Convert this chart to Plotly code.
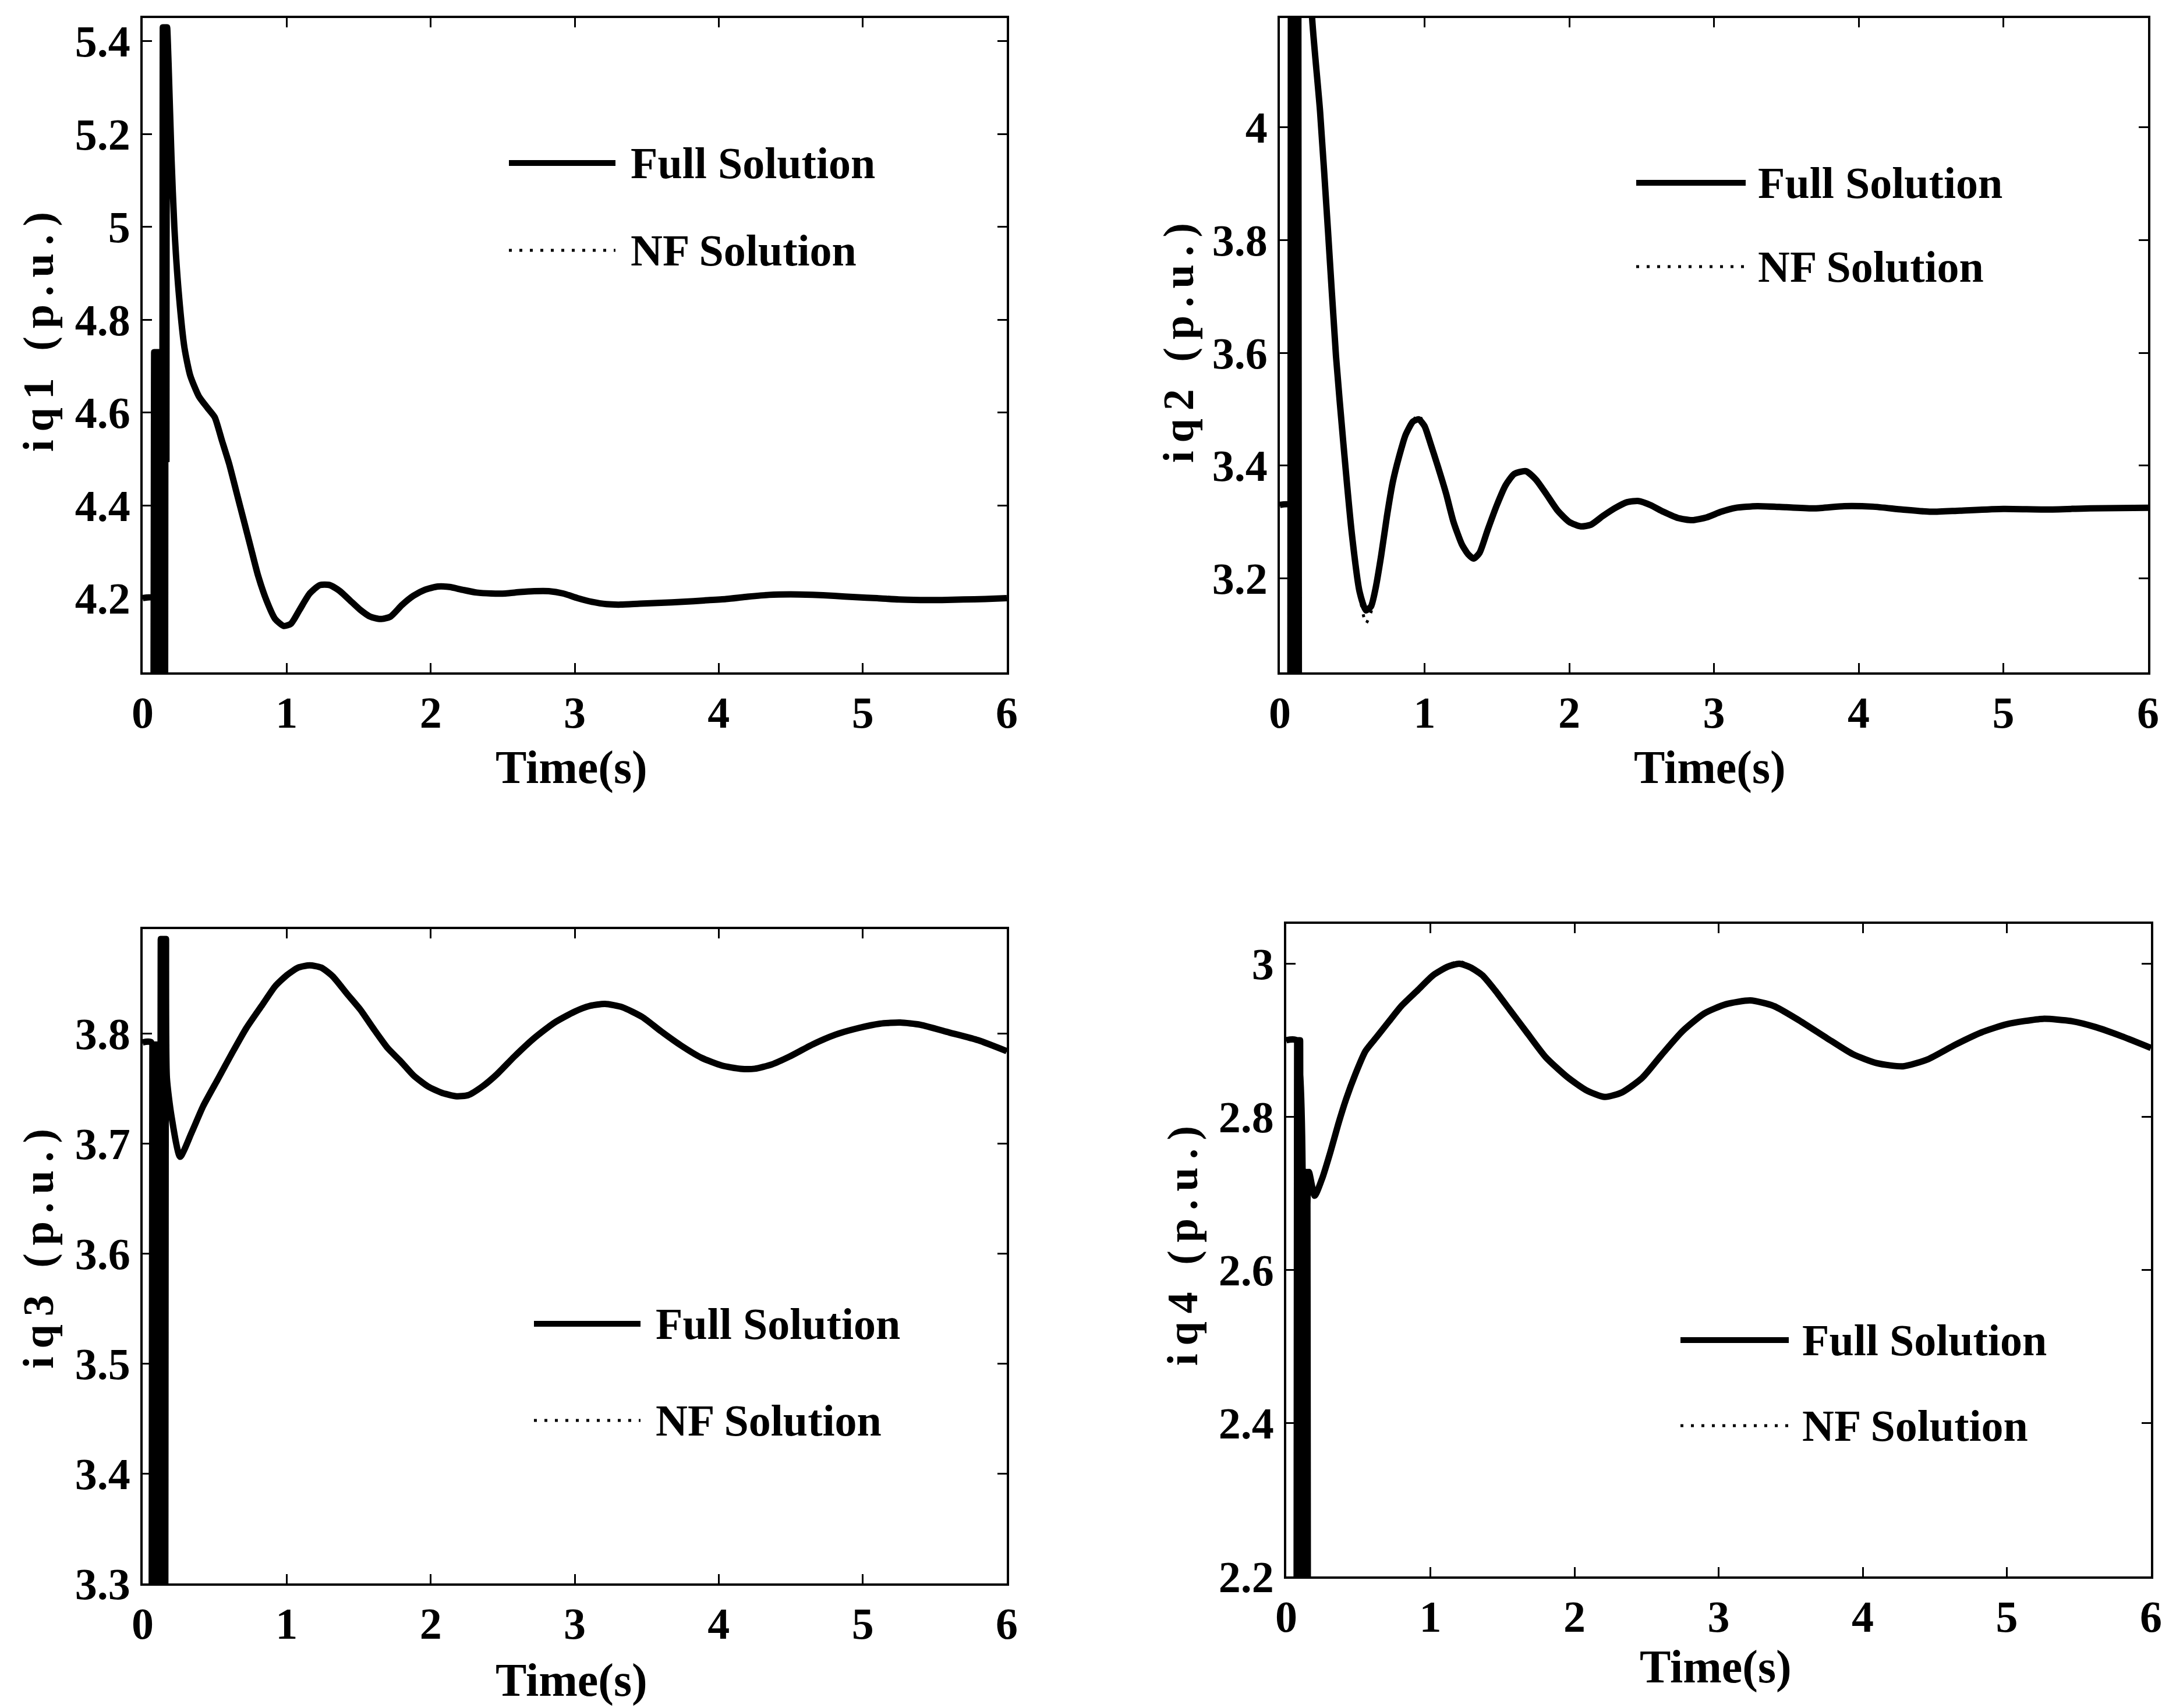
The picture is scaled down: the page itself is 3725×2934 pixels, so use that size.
import plotly.graph_objects as go

W, H = 3725, 2934

# ---------------- data ----------------
# iq1
t1 = [0, 0.073,
      0.075, 0.080, 0.085, 0.090, 0.095, 0.100, 0.105, 0.110, 0.115, 0.120, 0.125, 0.130,
      0.135, 0.140, 0.145, 0.150, 0.155, 0.160, 0.165, 0.170,
      0.18, 0.20, 0.22, 0.25, 0.29, 0.33, 0.39, 0.45, 0.50, 0.55, 0.60, 0.65, 0.70, 0.75,
      0.80, 0.86, 0.92, 0.98, 1.03, 1.09, 1.16, 1.23, 1.30, 1.37, 1.44, 1.51, 1.58, 1.65,
      1.72, 1.80, 1.88, 1.96, 2.05, 2.13, 2.22, 2.32, 2.42, 2.52, 2.62, 2.72, 2.82, 2.92,
      3.02, 3.12, 3.22, 3.32, 3.45, 3.60, 3.75, 3.90, 4.05, 4.20, 4.35, 4.50, 4.65, 4.80,
      4.95, 5.10, 5.25, 5.40, 5.55, 5.70, 5.85, 6.0]
iq1_full = [4.2, 4.2,
            3.9, 4.73, 3.9, 4.73, 3.9, 4.73, 3.9, 4.73, 3.9, 4.73, 3.9, 4.73,
            3.9, 5.43, 3.9, 5.43, 3.9, 5.43, 4.5, 5.43,
            5.35, 5.15, 5.0, 4.86, 4.74, 4.68, 4.635, 4.61, 4.59, 4.54, 4.49, 4.43, 4.37, 4.31,
            4.25, 4.195, 4.155, 4.14, 4.145, 4.175, 4.21, 4.228, 4.228, 4.215, 4.195, 4.175, 4.16, 4.155,
            4.16, 4.185, 4.205, 4.218, 4.225, 4.224, 4.218, 4.212, 4.21, 4.21, 4.213, 4.215, 4.215, 4.21,
            4.2, 4.192, 4.187, 4.186, 4.188, 4.19, 4.192, 4.195, 4.198, 4.203, 4.207, 4.208, 4.207, 4.205,
            4.202, 4.2, 4.197, 4.196, 4.196, 4.197, 4.198, 4.2]
iq1_nf = [4.2, 4.2,
          3.9, 4.73, 3.9, 4.73, 3.9, 4.73, 3.9, 4.73, 3.9, 4.73, 3.9, 4.73,
          3.9, 5.43, 3.9, 5.43, 3.9, 5.43, 4.5, 5.43,
          5.36, 5.16, 5.0, 4.86, 4.74, 4.68, 4.635, 4.61, 4.59, 4.54, 4.49, 4.43, 4.37, 4.31,
          4.25, 4.195, 4.153, 4.137, 4.143, 4.175, 4.21, 4.23, 4.229, 4.215, 4.195, 4.175, 4.158, 4.153,
          4.16, 4.185, 4.205, 4.219, 4.226, 4.224, 4.218, 4.212, 4.21, 4.21, 4.213, 4.216, 4.215, 4.21,
          4.2, 4.192, 4.186, 4.185, 4.188, 4.19, 4.192, 4.195, 4.198, 4.203, 4.207, 4.209, 4.207, 4.205,
          4.202, 4.2, 4.197, 4.196, 4.196, 4.197, 4.198, 4.2]

# iq2
t2 = [0, 0.070,
      0.072, 0.078, 0.084, 0.090, 0.096, 0.102, 0.108, 0.114, 0.120, 0.126, 0.132, 0.138, 0.143,
      0.18, 0.224, 0.278, 0.333, 0.388, 0.44, 0.497, 0.551, 0.595, 0.63, 0.66, 0.70, 0.74, 0.78,
      0.823, 0.87, 0.92, 0.96, 1.00, 1.04, 1.09, 1.149, 1.20, 1.258, 1.30, 1.34, 1.38, 1.435,
      1.50, 1.56, 1.62, 1.70, 1.77, 1.84, 1.92, 2.00, 2.08, 2.15, 2.23, 2.32, 2.40, 2.48,
      2.56, 2.65, 2.75, 2.85, 2.95, 3.05, 3.15, 3.30, 3.50, 3.70, 3.90, 4.10, 4.30, 4.50,
      4.70, 5.00, 5.30, 5.60, 6.0]
iq2_full = [3.33, 3.33,
            2.9, 4.6, 2.9, 4.6, 2.9, 4.6, 2.9, 4.6, 2.9, 4.6, 2.9, 4.6, 4.6,
            4.45, 4.19, 4.028, 3.815, 3.594, 3.436, 3.28, 3.176, 3.143, 3.15, 3.18, 3.24, 3.31, 3.37,
            3.415, 3.455, 3.478, 3.482, 3.47, 3.44, 3.40, 3.35, 3.30, 3.26, 3.243, 3.235, 3.245, 3.285,
            3.33, 3.365, 3.385, 3.39, 3.375, 3.35, 3.32, 3.30, 3.292, 3.295, 3.31, 3.325, 3.335, 3.337,
            3.33, 3.318, 3.307, 3.303, 3.308, 3.318, 3.325, 3.328, 3.326, 3.324, 3.328, 3.327, 3.322, 3.318,
            3.32, 3.323, 3.322, 3.324, 3.325]
iq2_nf = [3.33, 3.33,
          2.9, 4.6, 2.9, 4.6, 2.9, 4.6, 2.9, 4.6, 2.9, 4.6, 2.9, 4.6, 4.6,
          4.45, 4.19, 4.03, 3.815, 3.594, 3.436, 3.28, 3.17, 3.12, 3.14, 3.18, 3.24, 3.31, 3.37,
          3.415, 3.455, 3.48, 3.49, 3.47, 3.44, 3.40, 3.35, 3.30, 3.26, 3.24, 3.232, 3.245, 3.285,
          3.33, 3.365, 3.387, 3.392, 3.375, 3.35, 3.32, 3.30, 3.29, 3.295, 3.31, 3.325, 3.336, 3.338,
          3.33, 3.318, 3.307, 3.302, 3.308, 3.318, 3.325, 3.328, 3.326, 3.324, 3.328, 3.327, 3.322, 3.318,
          3.32, 3.323, 3.322, 3.324, 3.325]

# iq3
t3 = [0, 0.060,
      0.062, 0.068, 0.074, 0.080, 0.086, 0.092, 0.098, 0.104, 0.110, 0.115,
      0.120, 0.126, 0.132, 0.138, 0.144, 0.150, 0.156, 0.162, 0.168,
      0.20, 0.26, 0.34, 0.42, 0.52, 0.62, 0.72, 0.83, 0.92, 1.00, 1.08, 1.16, 1.24, 1.32,
      1.42, 1.51, 1.60, 1.70, 1.79, 1.88, 1.98, 2.08, 2.18, 2.26, 2.36, 2.46, 2.58, 2.72,
      2.86, 3.00, 3.10, 3.21, 3.33, 3.47, 3.60, 3.74, 3.88, 4.02, 4.15, 4.25, 4.37, 4.49,
      4.65, 4.81, 4.97, 5.12, 5.26, 5.40, 5.60, 5.80, 6.0]
iq3_full = [3.792, 3.792,
            3.2, 3.79, 3.2, 3.79, 3.2, 3.79, 3.2, 3.79, 3.2, 3.79,
            3.2, 3.886, 3.2, 3.886, 3.2, 3.886, 3.2, 3.886, 3.76,
            3.725, 3.688, 3.71, 3.734, 3.758, 3.782, 3.805, 3.826, 3.843, 3.853, 3.86, 3.862, 3.86, 3.852,
            3.836, 3.822, 3.805, 3.787, 3.775, 3.762, 3.752, 3.746, 3.743, 3.744, 3.752, 3.763, 3.779, 3.796,
            3.81, 3.82, 3.825, 3.827, 3.824, 3.815, 3.802, 3.789, 3.778, 3.771, 3.768, 3.768, 3.772, 3.779,
            3.79, 3.799, 3.805, 3.809, 3.81, 3.808, 3.801, 3.794, 3.784]
iq3_nf = [3.792, 3.792,
          3.2, 3.79, 3.2, 3.79, 3.2, 3.79, 3.2, 3.79, 3.2, 3.79,
          3.2, 3.886, 3.2, 3.886, 3.2, 3.886, 3.2, 3.886, 3.76,
          3.725, 3.686, 3.71, 3.734, 3.758, 3.782, 3.805, 3.826, 3.843, 3.854, 3.861, 3.863, 3.86, 3.852,
          3.836, 3.822, 3.805, 3.787, 3.775, 3.762, 3.752, 3.745, 3.742, 3.744, 3.752, 3.763, 3.779, 3.796,
          3.81, 3.82, 3.826, 3.828, 3.824, 3.815, 3.802, 3.789, 3.778, 3.771, 3.767, 3.768, 3.772, 3.779,
          3.79, 3.799, 3.805, 3.809, 3.811, 3.808, 3.801, 3.794, 3.784]

# iq4
t4 = [0, 0.069,
      0.071, 0.076, 0.081, 0.086, 0.091, 0.096, 0.101,
      0.106, 0.111, 0.116, 0.121, 0.126, 0.131, 0.136, 0.141, 0.146, 0.151, 0.157,
      0.197, 0.25, 0.306, 0.36, 0.415, 0.48, 0.55, 0.63, 0.71, 0.80, 0.91, 1.02, 1.12, 1.20,
      1.28, 1.36, 1.45, 1.55, 1.67, 1.80, 1.95, 2.08, 2.21, 2.33, 2.47, 2.60, 2.75, 2.90,
      3.05, 3.22, 3.38, 3.55, 3.75, 3.93, 4.10, 4.28, 4.45, 4.64, 4.82, 5.00, 5.25, 5.45,
      5.62, 5.80, 6.0]
iq4_full = [2.9, 2.9,
            2.0, 2.9, 2.0, 2.9, 2.0, 2.9, 2.0,
            2.728, 2.0, 2.728, 2.0, 2.728, 2.0, 2.728, 2.0, 2.728, 2.0, 2.728,
            2.697, 2.72, 2.754, 2.79, 2.823, 2.856, 2.886, 2.905, 2.924, 2.945, 2.965, 2.985, 2.996, 3.0,
            2.995, 2.985, 2.965, 2.94, 2.91, 2.878, 2.852, 2.835, 2.826, 2.832, 2.851, 2.88, 2.912, 2.935,
            2.947, 2.952, 2.945, 2.927, 2.903, 2.882, 2.87, 2.866, 2.875, 2.894, 2.91, 2.921, 2.928, 2.925,
            2.917, 2.905, 2.89]
iq4_nf = [2.9, 2.9,
          2.0, 2.9, 2.0, 2.9, 2.0, 2.9, 2.0,
          2.728, 2.0, 2.728, 2.0, 2.728, 2.0, 2.728, 2.0, 2.728, 2.0, 2.728,
          2.695, 2.72, 2.754, 2.79, 2.823, 2.856, 2.886, 2.905, 2.924, 2.945, 2.966, 2.987, 2.998, 3.003,
          2.997, 2.985, 2.965, 2.94, 2.91, 2.878, 2.852, 2.834, 2.825, 2.832, 2.851, 2.88, 2.912, 2.936,
          2.948, 2.953, 2.945, 2.927, 2.903, 2.882, 2.869, 2.865, 2.875, 2.894, 2.91, 2.922, 2.929, 2.925,
          2.917, 2.905, 2.89]

y_titles = ["iq1 (p.u.)", "iq2 (p.u.)", "iq3 (p.u.)", "iq4 (p.u.)"]
x_title = "Time(s)"
legend_names = ["Full Solution", "NF Solution"]
x_ticks = [0, 1, 2, 3, 4, 5, 6]
y_tickvals = [[4.2, 4.4, 4.6, 4.8, 5.0, 5.2, 5.4],
              [3.2, 3.4, 3.6, 3.8, 4.0],
              [3.3, 3.4, 3.5, 3.6, 3.7, 3.8],
              [2.2, 2.4, 2.6, 2.8, 3.0]]
y_ticktext = [["4.2", "4.4", "4.6", "4.8", "5", "5.2", "5.4"],
              ["3.2", "3.4", "3.6", "3.8", "4"],
              ["3.3", "3.4", "3.5", "3.6", "3.7", "3.8"],
              ["2.2", "2.4", "2.6", "2.8", "3"]]
y_ranges = [[4.04, 5.45], [3.033, 4.194], [3.3, 3.895], [2.2, 3.052]]

series = [(t1, iq1_full, iq1_nf), (t2, iq2_full, iq2_nf),
          (t3, iq3_full, iq3_nf), (t4, iq4_full, iq4_nf)]

# ---------------- layout geometry (pixels) ----------------
# plot areas: left, right, top, bottom
boxes = [(245, 1729, 31, 1155), (2198, 3689, 31, 1155),
         (245, 1729, 1596, 2720), (2209, 3694, 1587, 2708)]
ytitle_pos = [(66, 563), (2024, 582), (66, 2138), (2031, 2133)]
xtitle_pos = [(981, 1318), (2936, 1318), (981, 2886), (2946, 2863)]
# legend: line x0, x1, text x, y full, y nf
legend_pos = [(874, 1057, 1081, 280, 430), (2810, 2998, 3017, 314, 458),
              (917, 1100, 1124, 2274, 2440), (2886, 3072, 3093, 2302, 2449)]

FONT = "Liberation Serif"
DOT = "5px,13px"

def px(x):
    return x / W

def py(y):
    return 1 - y / H

fig = go.Figure()
annotations = []
shapes = []
for i, (t, full, nf) in enumerate(series):
    n = "" if i == 0 else str(i + 1)
    xa, ya = "x" + n, "y" + n
    fig.add_trace(go.Scatter(x=t, y=full, mode="lines", name=legend_names[0],
                             line=dict(color="black", width=11, simplify=False,
                                       shape="spline", smoothing=0.6),
                             xaxis=xa, yaxis=ya, showlegend=False))
    fig.add_trace(go.Scatter(x=t, y=nf, mode="lines", name=legend_names[1],
                             line=dict(color="black", width=5, dash=DOT, simplify=False,
                                       shape="spline", smoothing=0.6),
                             xaxis=xa, yaxis=ya, showlegend=False))
    l, r, tp, b = boxes[i]
    axis_common = dict(showline=True, linecolor="black", linewidth=4, mirror="ticks",
                       ticks="inside", ticklen=16, tickwidth=3, tickcolor="black",
                       showgrid=False, zeroline=False, automargin=False,
                       tickfont=dict(family=FONT, size=76, color="black", weight="bold"))
    fig.update_layout(**{
        "xaxis" + n: dict(domain=[px(l), px(r)], range=[0, 6], tickvals=x_ticks,
                          anchor=ya, ticklabelstandoff=0, **axis_common),
        "yaxis" + n: dict(domain=[py(b), py(tp)], range=y_ranges[i],
                          tickvals=y_tickvals[i], ticktext=y_ticktext[i],
                          anchor=xa, ticklabelstandoff=2, **axis_common),
    })
    yx, yy = ytitle_pos[i]
    annotations.append(dict(x=px(yx), y=py(yy), xref="paper", yref="paper",
                            text='<span style="letter-spacing:14px">' + y_titles[i] + '</span>',
                            textangle=-90, showarrow=False, xanchor="center", yanchor="middle",
                            font=dict(family=FONT, size=74, color="black", weight="bold")))
    tx, ty = xtitle_pos[i]
    annotations.append(dict(x=px(tx), y=py(ty), xref="paper", yref="paper", text=x_title,
                            showarrow=False, xanchor="center", yanchor="middle",
                            font=dict(family=FONT, size=80, color="black", weight="bold")))
    lx0, lx1, ltx, ly1, ly2 = legend_pos[i]
    shapes.append(dict(type="line", xref="paper", yref="paper", x0=px(lx0), x1=px(lx1),
                       y0=py(ly1), y1=py(ly1), line=dict(color="black", width=10)))
    shapes.append(dict(type="line", xref="paper", yref="paper", x0=px(lx0), x1=px(lx1),
                       y0=py(ly2), y1=py(ly2), line=dict(color="black", width=5, dash=DOT)))
    for name, yv in ((legend_names[0], ly1), (legend_names[1], ly2)):
        annotations.append(dict(x=px(ltx), y=py(yv), xref="paper", yref="paper", text=name,
                                showarrow=False, xanchor="left", yanchor="middle",
                                font=dict(family=FONT, size=76, color="black", weight="bold")))

fig.update_layout(width=W, height=H, margin=dict(l=0, r=0, t=0, b=0, autoexpand=False),
                  paper_bgcolor="white", plot_bgcolor="white",
                  annotations=annotations, shapes=shapes, showlegend=False)

fig.write_html("out.html", config={"displayModeBar": False},
               post_script="document.body.style.margin='0';")
